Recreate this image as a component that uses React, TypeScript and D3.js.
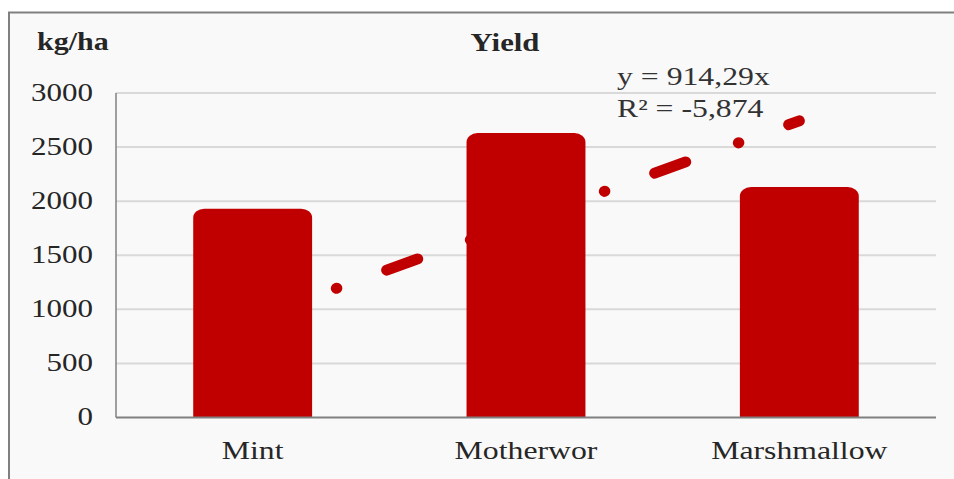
import * as d3 from 'd3';
import React from 'react';

const categories = ['Mint', 'Motherwor', 'Marshmallow'];
const yields = [1930, 2630, 2130];
const yTicks = [0, 500, 1000, 1500, 2000, 2500, 3000];
const trendSlope = 914.29;
const trendLabel = ['y = 914,29x', 'R² = -5,874'];

const W = 954;
const H = 479;
const margin = { left: 116, right: 18, top: 93, bottom: 61.5 };
const stretch = 1.27; // the source picture is wider than tall text would be
const barColor = '#C00000';
const font = '"Liberation Serif", "Times New Roman", serif';

// text that is widened horizontally like the original
function Label({ x, y, anchor = 'start', size = 25, bold = false, fill = '#262626', sx = stretch, children }: any) {
  return (
    <text
      transform={`translate(${x},${y}) scale(${sx},1)`}
      textAnchor={anchor}
      fontFamily={font}
      fontSize={size}
      fontWeight={bold ? 'bold' : 'normal'}
      fill={fill}
    >
      {children}
    </text>
  );
}

// bar with rounded top corners only
function barPath(x: number, y: number, w: number, h: number, rx: number, ry: number) {
  return `M${x},${y + h}V${y + ry}A${rx},${ry} 0 0 1 ${x + rx},${y}H${x + w - rx}A${rx},${ry} 0 0 1 ${x + w},${y + ry}V${y + h}Z`;
}

export default function App() {
  const x0 = margin.left;
  const x1 = W - margin.right;
  const yBottom = H - margin.bottom;

  const x = d3.scaleBand<string>().domain(categories).range([x0, x1]).paddingInner(0.565).paddingOuter(0.2825);
  const y = d3.scaleLinear().domain([0, 3000]).range([yBottom, margin.top]);
  // category index -> pixel, for the trendline
  const xi = d3.scaleLinear().domain([0.5, categories.length + 0.5]).range([x0, x1]);

  const trend = d3
    .line<number>()
    .x((i) => xi(i))
    .y((i) => y(trendSlope * i));

  return (
    <svg width={W} height={H} style={{ position: 'absolute', left: 0, top: 0, display: 'block', background: '#fff' }}>
      <rect x={9} y={12.5} width={W + 20} height={H + 20} fill="#f9f9f9" stroke="#808080" strokeWidth={2} />

      {yTicks.slice(1).map((t) => (
        <line key={t} x1={x0} x2={x1} y1={y(t)} y2={y(t)} stroke="#d9d9d9" strokeWidth={2} />
      ))}

      <path
        d={trend([1, categories.length]) as string}
        fill="none"
        stroke={barColor}
        strokeWidth={11}
        strokeLinecap="round"
        strokeDasharray="33 56 0.5 53"
      />

      {categories.map((c, i) => {
        const bx = x(c) as number;
        const by = y(yields[i]);
        return <path key={c} d={barPath(bx, by, x.bandwidth(), yBottom - by, 11, 9)} fill={barColor} />;
      })}

      <line x1={x0} x2={x0} y1={margin.top} y2={yBottom} stroke="#808080" strokeWidth={1.5} />
      <line x1={x0} x2={x1} y1={yBottom} y2={yBottom} stroke="#808080" strokeWidth={2} />

      {yTicks.map((t) => (
        <Label key={t} x={93} y={y(t) + 7.5} anchor="end" sx={1.24}>
          {t}
        </Label>
      ))}

      {categories.map((c) => (
        <Label key={c} x={(x(c) as number) + x.bandwidth() / 2} y={459} anchor="middle">
          {c}
        </Label>
      ))}

      <Label x={37} y={50} bold sx={1.2}>
        kg/ha
      </Label>
      <Label x={505} y={51} anchor="middle" bold sx={1.23}>
        Yield
      </Label>

      {trendLabel.map((s, k) => (
        <Label key={s} x={617} y={85 + k * 31.5} fill="#333">
          {s}
        </Label>
      ))}
    </svg>
  );
}
